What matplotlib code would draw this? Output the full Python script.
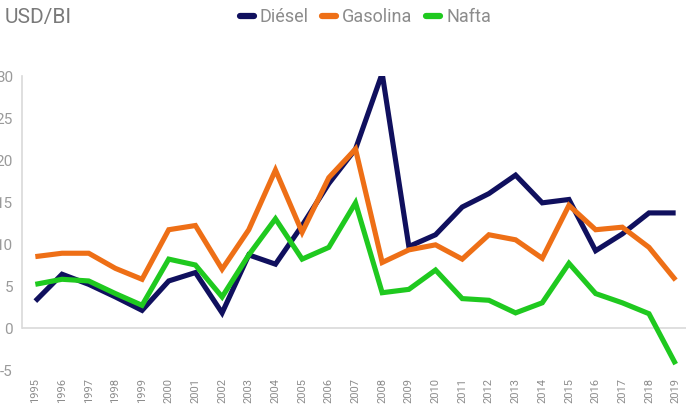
import matplotlib
matplotlib.use("Agg")
import matplotlib.pyplot as plt

years = [str(y) for y in range(1995, 2020)]
diesel = [3.2, 6.4, 5.2, 3.7, 2.1, 5.6, 6.6, 1.8, 8.7, 7.6, 12.2, 17.2, 21.3, 30.3, 9.7,
          11.1, 14.4, 16.0, 18.2, 14.9, 15.3, 9.2, 11.2, 13.7, 13.7]
gasolina = [8.5, 8.9, 8.9, 7.1, 5.8, 11.7, 12.2, 7.0, 11.7, 18.8, 11.4, 17.9, 21.3, 7.8, 9.3,
            9.9, 8.2, 11.1, 10.5, 8.3, 14.6, 11.7, 12.0, 9.6, 5.7]
nafta = [5.2, 5.8, 5.6, 4.1, 2.7, 8.2, 7.5, 3.7, 8.7, 13.0, 8.2, 9.6, 14.9, 4.2, 4.6,
         6.9, 3.5, 3.3, 1.8, 3.0, 7.7, 4.1, 3.0, 1.7, -4.3]
series_names = ["Diésel", "Gasolina", "Nafta"]
colors = ["#10105e", "#ee6f16", "#1fc91f"]
yticks = [-5, 0, 5, 10, 15, 20, 25, 30]

plt.rcParams["font.family"] = ["Roboto", "DejaVu Sans"]

fig = plt.figure(figsize=(6.86, 4.08), dpi=100)
ax = fig.add_axes([22/686, 38/408, (689-22)/686, (370-76)/408])

x = list(range(len(years)))
for vals, name, c in zip([diesel, gasolina, nafta], series_names, colors):
    ax.plot(x, vals, color=c, lw=3.7, label=name, solid_joinstyle="miter", solid_capstyle="butt")

ax.set_xlim(-0.5, len(years) - 0.5)
ax.set_ylim(-5, 30)
ax.set_yticks(yticks)
ax.set_yticklabels([str(t) for t in yticks])
ax.set_xticks(x)
ax.set_xticklabels(years, rotation=90, va="top", ha="center")
ax.tick_params(axis="x", length=0, pad=6, labelsize=8, labelcolor="#8c8c8c")
ax.tick_params(axis="y", length=0, pad=6.5, labelsize=11, labelcolor="#9a9a9a")
for s in ["top", "right", "bottom"]:
    ax.spines[s].set_visible(False)
ax.spines["left"].set_color("#d9d9d9")
ax.spines["left"].set_linewidth(1.2)
ax.spines["left"].set_bounds(0, 30)
ax.axhline(0, color="#d9d9d9", lw=1.2, zorder=0)

fig.text(5/686, 1 - 17/408, "USD/BI", fontsize=15, color="#7a7a7a", va="center", ha="left")

leg = fig.legend(loc="center left", bbox_to_anchor=(240/686, 1 - 17/408), ncol=3, frameon=False,
                 fontsize=13, handlelength=0.75, handletextpad=0.35, columnspacing=0.75,
                 labelcolor="#8c8c8c", borderaxespad=0, borderpad=0)
for h in leg.get_lines():
    h.set_solid_capstyle("round")
    h.set_linewidth(4.5)

fig.savefig("out.png", dpi=100)
